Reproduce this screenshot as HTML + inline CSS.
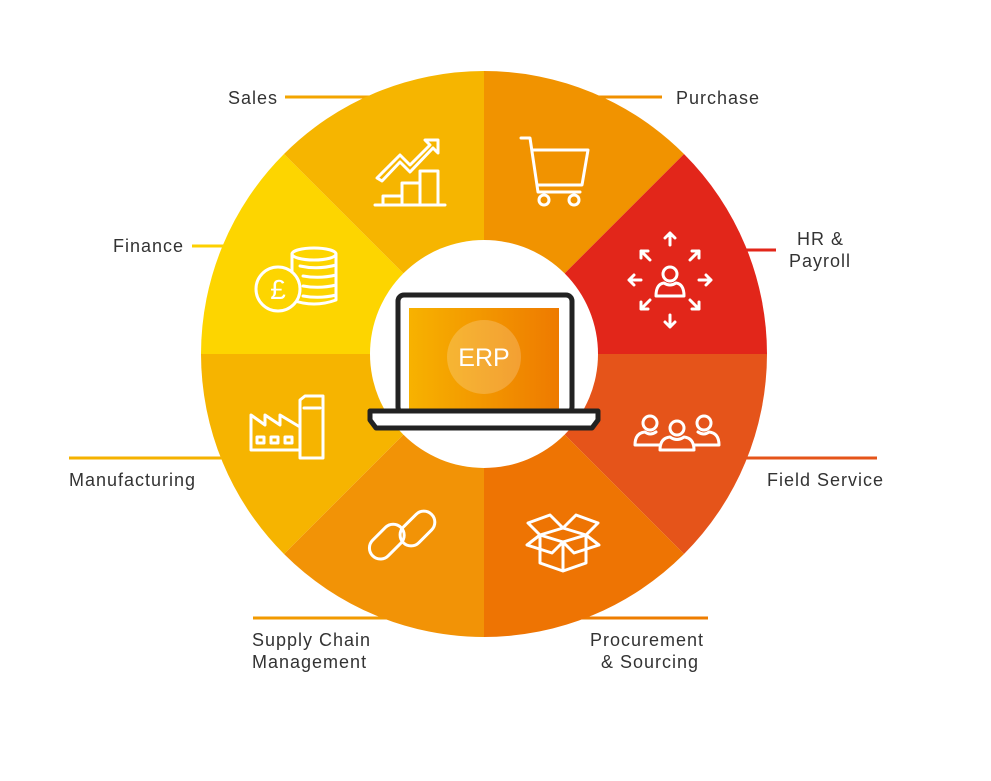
<!DOCTYPE html>
<html><head><meta charset="utf-8"><style>
html,body{margin:0;padding:0;background:#fff;}
svg{display:block}
text{font-family:"Liberation Sans",sans-serif;font-size:18px;letter-spacing:1px;fill:#333;}
</style></head><body>
<svg width="991" height="781" viewBox="0 0 991 781" xmlns="http://www.w3.org/2000/svg">
<g stroke-width="3">
<line x1="285" y1="97" x2="380" y2="97" stroke="#F3A500"/>
<line x1="590" y1="97" x2="662" y2="97" stroke="#F09000"/>
<line x1="735" y1="250" x2="776" y2="250" stroke="#E2261A"/>
<line x1="740" y1="458" x2="877" y2="458" stroke="#E5541A"/>
<line x1="484" y1="618" x2="708" y2="618" stroke="#EE7D00"/>
<line x1="253" y1="618" x2="484" y2="618" stroke="#F29A00"/>
<line x1="69" y1="458" x2="230" y2="458" stroke="#F5B200"/>
<line x1="192" y1="246" x2="232" y2="246" stroke="#FDD000"/>
</g>
<path d="M484 354 L484 71 A283 283 0 0 1 684 154 Z" fill="#F19300"/>
<path d="M484 354 L684 154 A283 283 0 0 1 767 354 Z" fill="#E2261A"/>
<path d="M484 354 L767 354 A283 283 0 0 1 684 554 Z" fill="#E5541A"/>
<path d="M484 354 L684 554 A283 283 0 0 1 484 637 Z" fill="#EE7403"/>
<path d="M484 354 L484 637 A283 283 0 0 1 284 554 Z" fill="#F29306"/>
<path d="M484 354 L284 554 A283 283 0 0 1 201 354 Z" fill="#F6B400"/>
<path d="M484 354 L201 354 A283 283 0 0 1 284 154 Z" fill="#FDD500"/>
<path d="M484 354 L284 154 A283 283 0 0 1 484 71 Z" fill="#F6B500"/>
<circle cx="484" cy="354" r="114" fill="#fff"/>
<defs><linearGradient id="g" x1="0" x2="1"><stop offset="0" stop-color="#F7B200"/><stop offset="1" stop-color="#EE7A00"/></linearGradient></defs>
<rect x="398" y="295" width="174" height="118" rx="6" fill="#fff" stroke="#222" stroke-width="5"/>
<rect x="409" y="308" width="150" height="102" fill="url(#g)"/>
<circle cx="484" cy="357" r="37" fill="#fff" opacity="0.2"/>
<text x="484" y="366" text-anchor="middle" style="font-size:25px;letter-spacing:0;fill:#fff">ERP</text>
<path d="M370 411 H598 V420 L592 428 H376 L370 420 Z" fill="#fff" stroke="#222" stroke-width="5" stroke-linejoin="round"/>
<g fill="none" stroke="#fff" stroke-width="3" stroke-linejoin="round" stroke-linecap="round">
<path d="M375 205 H445 M383 204 V196 H402 V204 M402 204 V183 H420 V204 M420 204 V171 H438 V204"/>
<path d="M377 178 L400 155 L410 165 L430 145 L425 140 H438 V153 L433 148 L410 172 L400 162 L382 181 Z"/>
<path d="M521 138 H530 L538 192 H580 M533 150 H588 L582 185 H538"/>
<circle cx="544" cy="200" r="5"/><circle cx="574" cy="200" r="5"/>
<circle cx="670" cy="274" r="7"/><path d="M656 296 Q656 284 664 283 Q670 287 676 283 Q684 284 684 296 Z"/>
<path d="M670 245 V233 M665 238 L670 233 L675 238 M670 315 V327 M665 322 L670 327 L675 322 M641 280 H629 M634 275 L629 280 L634 285 M699 280 H711 M706 275 L711 280 L706 285 M650 260 L641 251 M641 258 V251 H648 M690 260 L699 251 M692 251 H699 V258 M650 300 L641 309 M641 302 V309 H648 M690 300 L699 309 M699 302 V309 H692"/>
<circle cx="650" cy="423" r="7"/><circle cx="677" cy="428" r="7"/><circle cx="704" cy="423" r="7"/>
<path d="M635 445 Q635 433 645 432 Q650 436 656 432 M719 445 Q719 433 709 432 Q704 436 698 432 M660 450 Q660 438 670 437 Q677 442 684 437 Q694 438 694 450 Z M635 445 H660 M694 445 H719"/>
<path d="M540 535 L563 528 L586 535 L563 542 Z M540 535 V563 L563 571 L586 563 V535 M563 542 V571 M540 535 L528 523 L550 515 L563 528 L576 515 L598 523 L586 535 M540 535 L527 545 L552 553 L563 542 L574 553 L599 545 L586 535"/>
<rect x="374" y="530" width="22" height="40" rx="11" transform="rotate(45 396 548)"/>
<rect x="410" y="510" width="22" height="40" rx="11" transform="rotate(45 421 525)"/>
<path d="M251 450 V415 L265 425 V415 L280 425 V415 L300 427 V450 Z M300 458 V400 L305 396 H323 V458 Z M304 408 H320"/>
<rect x="257" y="437" width="7" height="6"/><rect x="271" y="437" width="7" height="6"/><rect x="285" y="437" width="7" height="6"/>
<ellipse cx="314" cy="254" rx="22" ry="6"/>
<path d="M292 254 V300 Q314 308 336 300 V254 M300 266 Q318 270 336 265 M303 276 Q320 279 336 275 M303 286 Q320 289 336 285 M303 296 Q320 299 336 295"/>
<circle cx="278" cy="289" r="22" fill="#FDD500"/>
<text x="278" y="299" text-anchor="middle" stroke="none" style="font-size:28px;letter-spacing:0;fill:#fff">£</text>
</g>
<text x="228" y="104">Sales</text>
<text x="676" y="104">Purchase</text>
<text x="797" y="245">HR &amp;</text>
<text x="789" y="267">Payroll</text>
<text x="767" y="486">Field Service</text>
<text x="590" y="646">Procurement</text>
<text x="601" y="668">&amp; Sourcing</text>
<text x="252" y="646">Supply Chain</text>
<text x="252" y="668">Management</text>
<text x="69" y="486">Manufacturing</text>
<text x="113" y="252">Finance</text>
</svg>
</body></html>
